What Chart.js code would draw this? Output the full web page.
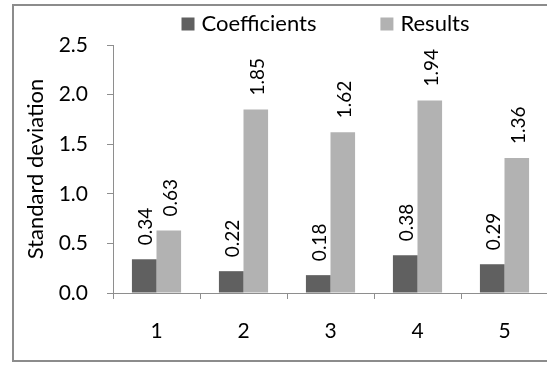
<!DOCTYPE html>
<html>
<head>
<meta charset="utf-8">
<script src="https://cdn.jsdelivr.net/npm/chart.js@4"></script>
<style>
  html, body { margin: 0; padding: 0; background: #ffffff; overflow: hidden; }
  #wrap { position: relative; width: 547px; height: 365px; overflow: hidden; }
  #frame {
    position: absolute; left: 12px; top: 4px; width: 620px; height: 358px;
    box-sizing: border-box; border: 2px solid #8c8c8c;
  }
  #c { position: absolute; left: 0; top: 0; }
</style>
</head>
<body>
<div id="wrap">
  <div id="frame"></div>
  <canvas id="c" width="560" height="365"></canvas>
</div>
<script>
// Standard deviation per experiment
const categories = ['1', '2', '3', '4', '5'];
const coefficients = [0.34, 0.22, 0.18, 0.38, 0.29];
const results = [0.63, 1.85, 1.62, 1.94, 1.36];
const yTicks = [0.0, 0.5, 1.0, 1.5, 2.0, 2.5];

const FONT = 'Lato, "Open Sans", sans-serif';
const AXIS_GREY = '#8e8e8e';

// Rotated value labels above each bar
const barValueLabels = {
  id: 'barValueLabels',
  afterDatasetsDraw(chart) {
    const ctx = chart.ctx;
    ctx.save();
    ctx.fillStyle = '#000000';
    ctx.font = '19px ' + FONT;
    ctx.textAlign = 'left';
    ctx.textBaseline = 'middle';
    chart.data.datasets.forEach((ds, di) => {
      const meta = chart.getDatasetMeta(di);
      meta.data.forEach((bar, i) => {
        ctx.save();
        ctx.translate(bar.x + 2, bar.y - 14);
        ctx.rotate(-Math.PI / 2);
        ctx.fillText(ds.data[i].toFixed(2), 0, 0);
        ctx.restore();
      });
    });
    ctx.restore();
  }
};

// Legend row across the top
const topLegend = {
  id: 'topLegend',
  afterDraw(chart) {
    const ctx = chart.ctx;
    const box = 13, textGap = 7, itemGap = 64;
    ctx.save();
    ctx.font = '22px ' + FONT;
    ctx.textBaseline = 'middle';
    ctx.textAlign = 'left';
    const items = chart.data.datasets.map(ds => ({
      label: ds.label, color: ds.backgroundColor,
      w: box + textGap + ctx.measureText(ds.label).width
    }));
    const total = items.reduce((s, it) => s + it.w, 0) + itemGap * (items.length - 1);
    const area = chart.chartArea;
    let x = (area.left + area.right) / 2 - 5 - total / 2;
    const cy = 24;
    items.forEach(it => {
      ctx.fillStyle = it.color;
      ctx.fillRect(x, cy - box / 2, box, box);
      ctx.fillStyle = '#000000';
      ctx.fillText(it.label, x + box + textGap, cy);
      x += it.w + itemGap;
    });
    ctx.restore();
  }
};

new Chart(document.getElementById('c'), {
  type: 'bar',
  data: {
    labels: categories,
    datasets: [
      { label: 'Coefficients', data: coefficients, backgroundColor: '#606060',
        categoryPercentage: 0.565, barPercentage: 1.0 },
      { label: 'Results', data: results, backgroundColor: '#b2b2b2',
        categoryPercentage: 0.565, barPercentage: 1.0 }
    ]
  },
  options: {
    responsive: false,
    animation: false,
    devicePixelRatio: 1,
    layout: { padding: { left: 13, top: 45, right: 12, bottom: 0 } },
    plugins: { legend: { display: false }, tooltip: { enabled: false } },
    scales: {
      x: {
        offset: true,
        grid: { offset: true, drawOnChartArea: false, drawTicks: true, tickLength: 6, color: AXIS_GREY },
        border: { display: true, color: AXIS_GREY, width: 1 },
        ticks: { color: '#000000', font: { family: FONT, size: 21 }, padding: 20 },
        afterFit(scale) { scale.height = 72; }
      },
      y: {
        min: 0, max: 2.5,
        afterBuildTicks(scale) { scale.ticks = yTicks.map(v => ({ value: v })); },
        grid: { drawOnChartArea: false, drawTicks: true, tickLength: 6, color: AXIS_GREY },
        border: { display: true, color: AXIS_GREY, width: 1 },
        ticks: {
          color: '#000000', font: { family: FONT, size: 21 }, padding: 19,
          callback: v => Number(v).toFixed(1)
        },
        title: {
          display: true, text: 'Standard deviation', color: '#000000',
          font: { family: FONT, size: 22 }, padding: { top: 10, bottom: 0 }
        },
        afterFit(scale) { scale.width = 100; }
      }
    }
  },
  plugins: [barValueLabels, topLegend]
});
</script>
</body>
</html>
